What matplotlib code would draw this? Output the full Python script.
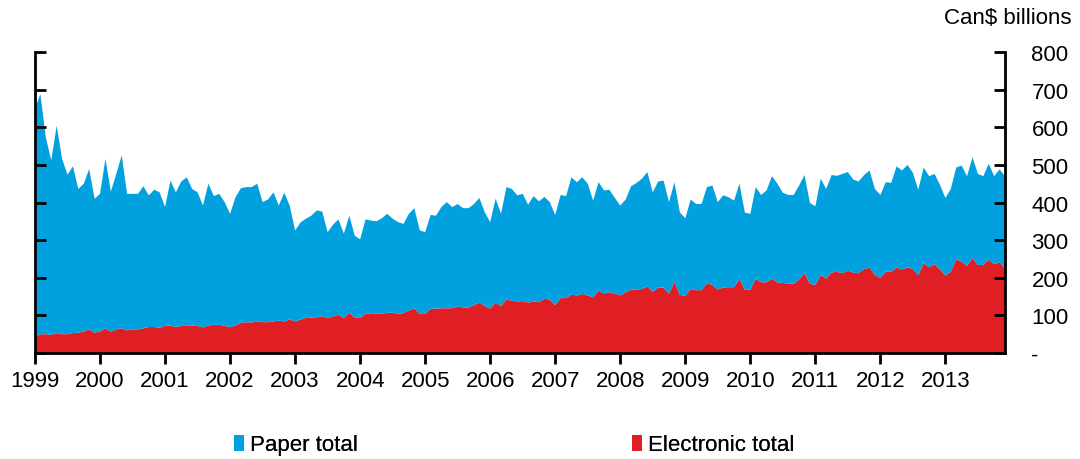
import matplotlib
matplotlib.use("Agg")
import matplotlib.pyplot as plt
from matplotlib.patches import Patch
import numpy as np

plt.rcParams['font.family'] = ['Liberation Sans', 'DejaVu Sans']

# Monthly data, Jan 1999 - Dec 2013 (Can$ billions)
start_year = 1999
electronic = [
    44, 50, 50, 48, 53, 50, 50, 53, 54, 57, 63, 54,
    57, 66, 57, 63, 66, 60, 63, 63, 66, 69, 69, 67,
    72, 73, 69, 72, 72, 73, 72, 68, 73, 75, 75, 72,
    69, 73, 80, 82, 81, 84, 82, 82, 84, 86, 84, 89,
    84, 89, 93, 94, 95, 98, 93, 97, 102, 93, 107, 94,
    93, 104, 106, 104, 104, 107, 107, 104, 106, 113, 119, 104,
    104, 118, 118, 119, 119, 119, 124, 121, 121, 127, 134, 125,
    118, 134, 125, 142, 139, 137, 138, 134, 137, 135, 144, 142,
    127, 146, 146, 155, 153, 157, 153, 148, 166, 158, 162, 158,
    153, 162, 168, 169, 170, 177, 163, 174, 174, 158, 189, 155,
    151, 170, 167, 167, 185, 181, 169, 174, 175, 175, 197, 169,
    168, 197, 188, 188, 197, 188, 186, 185, 184, 195, 212, 184,
    181, 207, 198, 214, 216, 212, 219, 214, 212, 223, 227, 207,
    200, 216, 216, 227, 222, 228, 223, 207, 239, 228, 236, 222,
    206, 216, 249, 243, 231, 253, 234, 234, 248, 236, 241, 225,
]
paper = [
    606, 638, 523, 464, 551, 466, 424, 443, 382, 393, 426, 356,
    366, 450, 372, 413, 459, 363, 360, 360, 377, 350, 365, 360,
    316, 385, 358, 384, 395, 363, 355, 324, 377, 342, 348, 329,
    301, 341, 358, 359, 360, 366, 319, 326, 343, 306, 342, 303,
    242, 258, 264, 271, 284, 278, 228, 244, 253, 224, 258, 218,
    209, 251, 246, 246, 254, 263, 250, 244, 237, 257, 266, 222,
    217, 249, 247, 269, 282, 269, 272, 264, 264, 269, 278, 249,
    230, 276, 245, 299, 297, 282, 285, 260, 280, 268, 271, 259,
    240, 274, 271, 312, 301, 310, 297, 257, 288, 274, 272, 254,
    239, 246, 275, 283, 293, 304, 264, 282, 284, 243, 265, 219,
    207, 238, 229, 229, 256, 264, 232, 245, 239, 230, 253, 204,
    202, 244, 232, 244, 273, 262, 240, 235, 236, 250, 261, 215,
    209, 256, 238, 259, 255, 264, 262, 247, 244, 250, 258, 229,
    220, 238, 236, 269, 263, 272, 256, 227, 254, 242, 240, 225,
    206, 220, 244, 255, 239, 267, 242, 236, 255, 234, 247, 245,
]
year_ticks = list(range(1999, 2014))
y_ticks = [0, 100, 200, 300, 400, 500, 600, 700, 800]
y_labels = ['-', '100', '200', '300', '400', '500', '600', '700', '800']

BLUE = '#00A1DE'
RED = '#E01F24'
FS = 16

x = start_year + np.arange(len(paper)) / 12.0

fig = plt.figure(figsize=(10.8, 4.6), dpi=100)
ax = fig.add_axes([35/1080, 1-354/460, (1005-35)/1080, (354-53)/460])

ax.stackplot(x, electronic, paper, colors=[RED, BLUE], linewidth=0)

ax.set_xlim(x[0], x[-1])
ax.set_ylim(0, 800)
ax.set_xticks(year_ticks)
ax.set_xticklabels([str(y) for y in year_ticks], fontsize=FS)
ax.set_yticks(y_ticks)
ax.yaxis.tick_right()
ax.set_yticklabels(y_labels, fontsize=FS)

ax.tick_params(axis='x', direction='out', length=8, width=2, pad=4, colors='black')
ax.tick_params(axis='y', which='both', direction='in', length=8, width=2,
               left=True, right=True, labelleft=False, labelright=True, pad=19)
for side in ['left', 'right', 'bottom']:
    ax.spines[side].set_linewidth(2)
    ax.spines[side].set_color('black')
ax.spines['top'].set_visible(False)

fig.text(1072/1080, 1-18/460, 'Can$ billions', ha='right', va='center', fontsize=FS)

for lab, col, xpos in [('Paper total', BLUE, 234), ('Electronic total', RED, 632)]:
    leg = fig.legend(handles=[Patch(facecolor=col, edgecolor='none')], labels=[lab],
                     loc='center left', bbox_to_anchor=(xpos/1080, 1-446/460),
                     frameon=False, fontsize=FS, handlelength=0.45, handleheight=0.75,
                     handletextpad=0.25, borderpad=0, borderaxespad=0)
    fig.add_artist(leg)

fig.savefig('out.png', dpi=100)
